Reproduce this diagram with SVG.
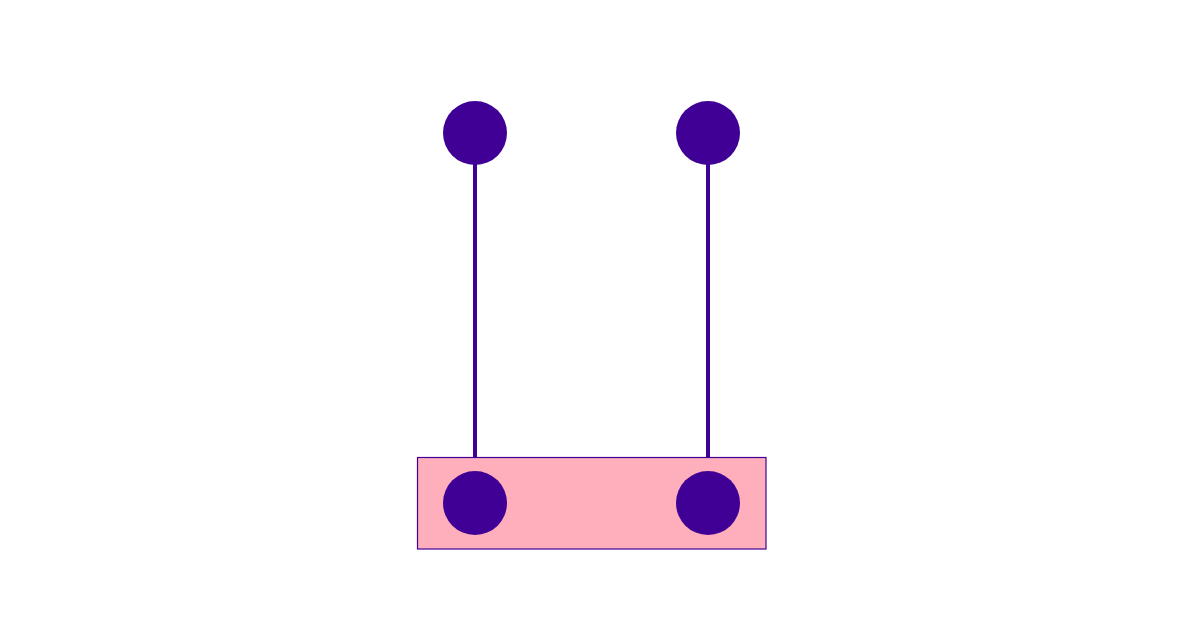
<svg xmlns="http://www.w3.org/2000/svg" width="1182" height="636" viewBox="0 0 1182 636">
<style>
.dot{fill:#400096}
.wire{stroke:#400096;stroke-width:4;fill:none}
.box{fill:#ffaebb;stroke:#400096;stroke-width:1.2}
</style>
<rect width="1182" height="636" fill="#ffffff"/>
<g id="connectors">
<line class="wire" x1="475" y1="160" x2="475" y2="458"/>
<line class="wire" x1="708" y1="160" x2="708" y2="458"/>
</g>
<g id="base"><rect class="box" x="417.5" y="457.5" width="348.5" height="91.5"/></g>
<g id="top-left"><circle class="dot" cx="475" cy="133" r="32"/></g>
<g id="top-right"><circle class="dot" cx="708" cy="133" r="32"/></g>
<g id="bottom-left"><circle class="dot" cx="475" cy="503" r="32"/></g>
<g id="bottom-right"><circle class="dot" cx="708" cy="503" r="32"/></g>
</svg>
